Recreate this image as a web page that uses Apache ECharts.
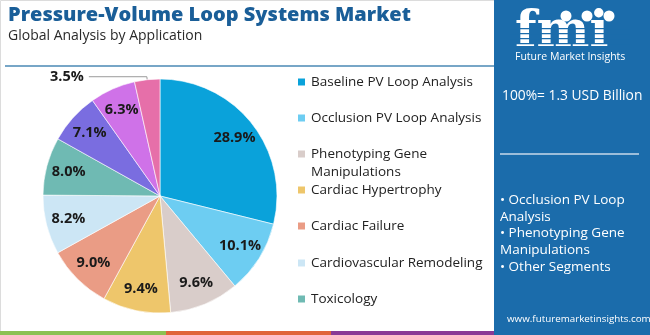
<!DOCTYPE html>
<html>
<head>
<meta charset="utf-8">
<script src="https://cdn.jsdelivr.net/npm/echarts@6/dist/echarts.min.js"></script>
<style>
  html, body { margin: 0; padding: 0; background: #fff; }
  #chart { width: 650px; height: 335px; }
</style>
</head>
<body>
<div id="chart"></div>
<script>
// ---- data ----
const categories = [
  'Baseline PV Loop Analysis',
  'Occlusion PV Loop Analysis',
  'Phenotyping Gene Manipulations',
  'Cardiac Hypertrophy',
  'Cardiac Failure',
  'Cardiovascular Remodeling',
  'Toxicology',
  'Drug Development',
  'Academic Research',
  'Others'
];
const shares = [28.9, 10.1, 9.6, 9.4, 9.0, 8.2, 8.0, 7.1, 6.3, 3.5];
const legendNames = categories.slice(0, 7);
const title = 'Pressure-Volume Loop Systems Market';
const subtitle = 'Global Analysis by Application';
const totalText = '100%= 1.3 USD Billion';
const bulletLines = ['• Occlusion PV Loop', 'Analysis', '• Phenotyping Gene', 'Manipulations', '• Other Segments'];
const siteText = 'www.futuremarketinsights.com';

// ---- style ----
const colors = ['#0aa2da', '#6dcdf2', '#d9cdca', '#eec66b', '#ea9c85', '#cce6f5', '#6fbab3', '#7a6de0', '#cf72e8', '#e66fa9'];
const panelColor = '#1b6cab';
const FONT = '"Open Sans", Lato, sans-serif';
const pieCenter = [160, 196];
const R = 117;

const chart = echarts.init(document.getElementById('chart'), null, { renderer: 'canvas' });

const legendCenters = [82, 118, 154, 190, 226, 263, 299];
const legends = legendNames.map((name, i) => {
  const multi = name === 'Phenotyping Gene Manipulations';
  return {
    orient: 'vertical',
    left: 296,
    top: multi ? legendCenters[i] - 27 : legendCenters[i] - 9,
    padding: 0,
    itemGap: 0,
    itemWidth: 9,
    itemHeight: 9,
    icon: 'rect',
    selectedMode: false,
    data: [name],
    formatter: n => multi ? ' \nPhenotyping Gene\nManipulations' : n,
    textStyle: { fontFamily: FONT, fontSize: 13.5, color: '#222', lineHeight: 18 }
  };
});

const pieData = categories.map((c, i) => ({ name: c, value: shares[i], itemStyle: { color: colors[i] } }));
const labelData = categories.map((c, i) => {
  const item = { name: c, value: shares[i] };
  if (i === categories.length - 1) {
    item.label = { position: 'outside', color: '#1a1a1a' };
    item.labelLine = { show: true, length: 3, length2: 58, lineStyle: { color: '#9a9a9a', width: 1 } };
  }
  return item;
});

const graphics = [
  { type: 'rect', shape: { x: 0.5, y: 0.5, width: 649, height: 334 }, style: { fill: 'none', stroke: '#dcdcdc', lineWidth: 1 }, z: -10 },
  { type: 'text', left: 8, top: 5, style: { text: title, font: '800 20px ' + FONT, fill: '#1a5e98' } },
  { type: 'text', left: 8, top: 29, style: { text: subtitle, font: '400 14px ' + FONT, fill: '#2a2a2a' } },
  { type: 'line', shape: { x1: 5, y1: 66, x2: 494, y2: 66 }, style: { stroke: '#4a88b4', lineWidth: 1.5 } },
  { type: 'rect', shape: { x: 0, y: 331, width: 166, height: 4 }, style: { fill: '#8cc153' } },
  { type: 'rect', shape: { x: 166, y: 331, width: 165, height: 4 }, style: { fill: '#e0643a' } },
  { type: 'rect', shape: { x: 331, y: 331, width: 164, height: 4 }, style: { fill: '#8a3a96' } },
  { type: 'rect', shape: { x: 494, y: 0, width: 156, height: 335 }, style: { fill: panelColor } },
  { type: 'text', left: 515, top: 8, style: { text: 'fmi', font: 'bold 50px "DejaVu Serif", serif', fill: '#fff' } },
  { type: 'circle', shape: { cx: 566, cy: 16, r: 5.5 }, style: { fill: '#fff' } },
  { type: 'circle', shape: { cx: 587, cy: 16, r: 5.5 }, style: { fill: '#fff' } },
  { type: 'circle', shape: { cx: 609, cy: 16, r: 5.5 }, style: { fill: '#fff' } },
  { type: 'rect', shape: { x: 510, y: 28, width: 120, height: 1.2 }, style: { fill: panelColor } },
  { type: 'rect', shape: { x: 510, y: 33, width: 120, height: 1.2 }, style: { fill: panelColor } },
  { type: 'rect', shape: { x: 510, y: 38, width: 120, height: 1.2 }, style: { fill: panelColor } },
  { type: 'rect', shape: { x: 510, y: 43, width: 120, height: 1.2 }, style: { fill: panelColor } },
  { type: 'text', left: 515, top: 52, style: { text: 'Future Market Insights', font: '400 10.5px ' + FONT, fill: '#fff' } },
  { type: 'text', left: 502, top: 89, style: { text: totalText, font: '400 13.8px ' + FONT, fill: '#fff' } },
  { type: 'line', shape: { x1: 500, y1: 154, x2: 639, y2: 154 }, style: { stroke: '#c9d9ea', lineWidth: 1.5 } },
  { type: 'text', left: 500, top: 192, style: { text: bulletLines.join('\n'), font: '400 13.5px ' + FONT, lineHeight: 16.6, fill: '#fff' } },
  { type: 'text', left: 507, top: 314, style: { text: siteText, font: '400 9.8px ' + FONT, fill: '#fff' } }
];

chart.setOption({
  animation: false,
  legend: legends,
  graphic: graphics,
  series: [
    {
      type: 'pie',
      center: pieCenter,
      radius: [0, R],
      startAngle: 90,
      clockwise: true,
      silent: true,
      label: { show: false },
      labelLine: { show: false },
      itemStyle: { borderColor: '#fff', borderWidth: 0.6 },
      data: pieData
    },
    {
      type: 'pie',
      center: pieCenter,
      radius: [66, R],
      startAngle: 90,
      clockwise: true,
      silent: true,
      avoidLabelOverlap: false,
      itemStyle: { color: 'rgba(0,0,0,0)' },
      label: {
        show: true, position: 'inside',
        formatter: p => p.value.toFixed(1) + '%',
        fontFamily: FONT, fontSize: 14.5, fontWeight: 'bold', color: '#1a1a1a'
      },
      labelLine: { show: false },
      data: labelData
    }
  ]
});
</script>
</body>
</html>
